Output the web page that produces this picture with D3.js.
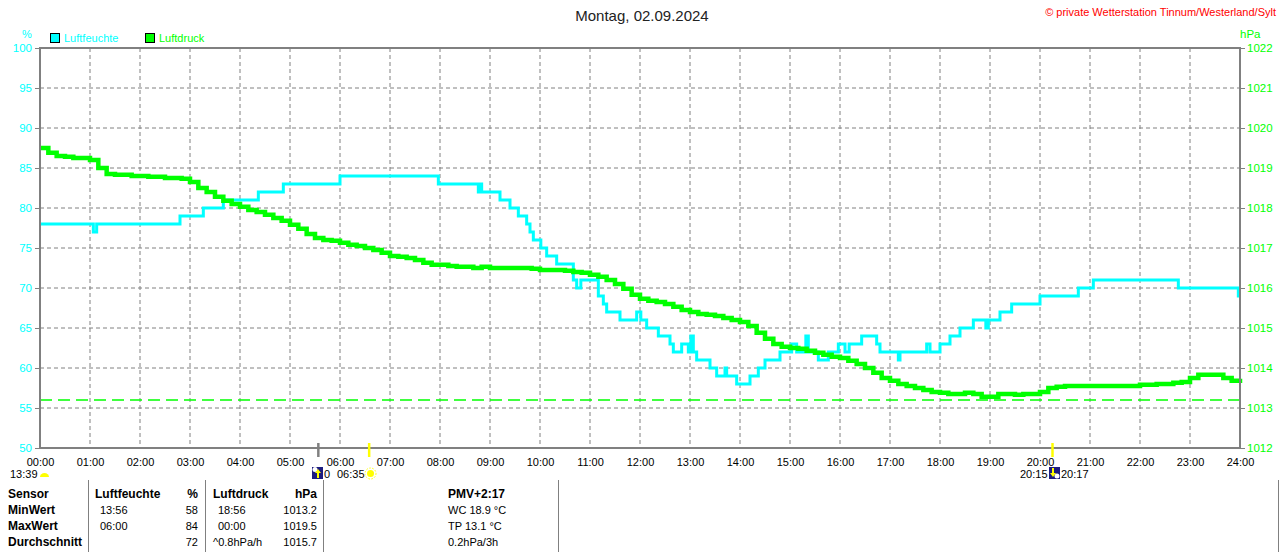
<!DOCTYPE html>
<html>
<head>
<meta charset="utf-8">
<script src="https://cdn.jsdelivr.net/npm/d3@7"></script>
<style>
  body { margin: 0; background: #fff; }
  text { font-family: "Liberation Sans", Arial, sans-serif; }
</style>
</head>
<body>
<div id="chart"></div>
<script>
// hour ticks on the x axis
const hourTicks = d3.range(0, 25);
// humidity ticks (left) and pressure ticks (right)
const humTicks = [50, 55, 60, 65, 70, 75, 80, 85, 90, 95, 100];
const presTicks = [1012, 1013, 1014, 1015, 1016, 1017, 1018, 1019, 1020, 1021, 1022];

// Luftfeuchte: step changes (time, %)
const humTimes = ["00:00","01:04","01:08","02:48","03:16","03:40","04:22","04:52","06:00","07:58",
  "08:46","08:48","08:50","09:12","09:24","09:34","09:44","09:48","09:52","10:01",
  "10:08","10:20","10:40","10:44","10:49","11:10","11:16","11:20","11:36","11:56",
  "12:01","12:08","12:22","12:36","12:40","12:50","12:58","13:01","13:04","13:08",
  "13:24","13:32","13:42","13:44","13:56","14:12","14:22","14:30","14:48","15:02",
  "15:08","15:19","15:22","15:34","15:46","15:58","16:06","16:11","16:26","16:44",
  "16:48","17:10","17:12","17:44","17:48","18:00","18:12","18:24","18:40","18:55",
  "18:58","19:12","19:26","20:00","20:46","21:04","22:46","23:58","24:00"];
const humValues = [78,77,78,79,80,81,82,83,84,83,
  82,83,82,81,80,79,78,77,76,75,
  74,73,71,70,71,69,68,67,66,67,
  66,65,64,63,62,63,62,64,62,61,
  60,59,60,59,58,59,60,61,62,63,
  62,64,62,61,62,63,62,63,64,63,
  62,61,62,63,62,63,64,65,66,65,
  66,67,68,69,70,71,70,69,69];

// Luftdruck: one reading every 10 minutes, 00:00 .. 24:00 (hPa)
const presStep = 10;
const presValues = [
  1019.50,1019.38,1019.30,1019.28,1019.25,1019.25,
  1019.20,1019.00,1018.85,1018.83,1018.83,1018.80,
  1018.80,1018.78,1018.78,1018.75,1018.75,1018.73,
  1018.65,1018.50,1018.40,1018.28,1018.18,1018.10,
  1018.03,1017.95,1017.90,1017.83,1017.75,1017.68,
  1017.58,1017.48,1017.35,1017.25,1017.20,1017.18,
  1017.13,1017.08,1017.05,1017.00,1016.95,1016.88,
  1016.80,1016.78,1016.75,1016.70,1016.63,1016.58,
  1016.58,1016.55,1016.53,1016.53,1016.50,1016.53,
  1016.50,1016.50,1016.50,1016.50,1016.50,1016.48,
  1016.45,1016.45,1016.45,1016.43,1016.40,1016.38,
  1016.33,1016.28,1016.20,1016.10,1015.98,1015.83,
  1015.73,1015.68,1015.65,1015.60,1015.53,1015.45,
  1015.40,1015.35,1015.33,1015.30,1015.25,1015.20,
  1015.15,1015.05,1014.88,1014.73,1014.60,1014.53,
  1014.50,1014.48,1014.43,1014.38,1014.33,1014.28,
  1014.25,1014.18,1014.10,1014.00,1013.88,1013.75,
  1013.68,1013.60,1013.55,1013.50,1013.45,1013.40,
  1013.38,1013.35,1013.35,1013.38,1013.35,1013.28,
  1013.28,1013.35,1013.35,1013.33,1013.35,1013.35,
  1013.40,1013.50,1013.53,1013.55,1013.55,1013.55,
  1013.55,1013.55,1013.55,1013.55,1013.55,1013.55,
  1013.58,1013.58,1013.60,1013.60,1013.63,1013.65,
  1013.75,1013.83,1013.83,1013.83,1013.75,1013.68,
  1013.73];
const presMin = 1013.2;

// statistics table
const tableHead = ["Sensor", "Luftfeuchte", "%", "Luftdruck", "hPa", "PMV+2:17"];
const rowNames = ["MinWert", "MaxWert", "Durchschnitt"];
const humTime = ["13:56", "06:00", ""];
const humStat = ["58", "84", "72"];
const presTime = ["18:56", "00:00", "^0.8hPa/h"];
const presStat = ["1013.2", "1019.5", "1015.7"];
const extra = ["WC 18.9 °C", "TP 13.1 °C", "0.2hPa/3h"];

const W = 1280, H = 552;
const margin = { top: 48, right: 40, bottom: 104, left: 40 };
const width = W - margin.left - margin.right,
      height = H - margin.top - margin.bottom;

const CYAN = "#00ffff", GREEN = "#00ff00", GRAY = "#808080";

const svg = d3.select("#chart").append("svg")
    .attr("width", W).attr("height", H);

const g = svg.append("g")
    .attr("transform", `translate(${margin.left},${margin.top})`);

const toMin = s => { const p = s.split(":"); return +p[0] * 60 + +p[1]; };

const x = d3.scaleLinear().domain([0, 1440]).range([0, width]);
const yH = d3.scaleLinear().domain([50, 100]).range([height, 0]);
const yP = d3.scaleLinear().domain([1012, 1022]).range([height, 0]);

// grid
g.append("g").selectAll("line").data(hourTicks.slice(1, -1)).join("line")
    .attr("x1", d => x(d * 60)).attr("x2", d => x(d * 60))
    .attr("y1", 0).attr("y2", height)
    .attr("stroke", GRAY).attr("stroke-dasharray", "4,3");
g.append("g").selectAll("line").data(humTicks.slice(1, -1)).join("line")
    .attr("x1", 0).attr("x2", width)
    .attr("y1", d => yH(d)).attr("y2", d => yH(d))
    .attr("stroke", GRAY).attr("stroke-dasharray", "4,3");

// left axis (humidity)
const axL = g.append("g")
    .call(d3.axisLeft(yH).tickValues(humTicks).tickSize(5).tickPadding(3));
axL.select(".domain").remove();
axL.selectAll("line").attr("stroke", GRAY);
axL.selectAll("text").attr("fill", CYAN).style("font-size", "11.5px");

// right axis (pressure)
const axR = g.append("g")
    .attr("transform", `translate(${width},0)`)
    .call(d3.axisRight(yP).tickValues(presTicks).tickSize(5).tickPadding(2).tickFormat(d3.format("d")));
axR.select(".domain").remove();
axR.selectAll("line").attr("stroke", GRAY);
axR.selectAll("text").attr("fill", GREEN).style("font-size", "11.5px");

// bottom axis labels
const axB = g.append("g")
    .attr("transform", `translate(0,${height})`)
    .call(d3.axisBottom(x).tickValues(hourTicks.map(h => h * 60)).tickSize(0).tickPadding(10)
        .tickFormat(d => String(d / 60).padStart(2, "0") + ":00"));
axB.select(".domain").remove();
axB.selectAll("text").attr("fill", "#000").style("font-size", "11px");

// min pressure reference line
g.append("line")
    .attr("x1", 0).attr("x2", width)
    .attr("y1", yP(presMin)).attr("y2", yP(presMin))
    .attr("stroke", GREEN).attr("stroke-width", 1.5).attr("stroke-dasharray", "12,6");

// humidity line
const humData = humTimes.map((t, i) => [toMin(t), humValues[i]]);
g.append("path").datum(humData)
    .attr("fill", "none").attr("stroke", CYAN).attr("stroke-width", 3)
    .attr("d", d3.line().x(d => x(d[0])).y(d => yH(d[1])).curve(d3.curveStepAfter));

// pressure line
g.append("path").datum(presValues)
    .attr("fill", "none").attr("stroke", GREEN).attr("stroke-width", 4.5)
    .attr("d", d3.line().x((d, i) => x(i * presStep)).y(d => yP(d)).curve(d3.curveStepAfter));

// frame
g.append("path")
    .attr("d", `M0,${height}V0H${width}V${height}H0`)
    .attr("fill", "none").attr("stroke", GRAY).attr("stroke-width", 2);

// sun / moon markers on the axis
const marks = [["05:34", GRAY], ["06:35", "#ffff00"], ["20:15", "#ffff00"]];
g.selectAll(".mark").data(marks).join("line")
    .attr("x1", d => x(toMin(d[0]))).attr("x2", d => x(toMin(d[0])))
    .attr("y1", height - 5).attr("y2", height + 9)
    .attr("stroke", d => d[1]).attr("stroke-width", 2.5);

// titles
svg.append("text").attr("x", 642).attr("y", 21).attr("text-anchor", "middle")
    .style("font-size", "15px").attr("fill", "#222").text("Montag, 02.09.2024");
svg.append("text").attr("x", 1276).attr("y", 16).attr("text-anchor", "end")
    .style("font-size", "11px").attr("fill", "#ff0000")
    .text("© private Wetterstation Tinnum/Westerland/Sylt");
svg.append("text").attr("x", 27).attr("y", 38).attr("text-anchor", "middle")
    .style("font-size", "11px").attr("fill", CYAN).text("%");
svg.append("text").attr("x", 1240).attr("y", 38)
    .style("font-size", "11.5px").attr("fill", GREEN).text("hPa");

// legend
const legend = [["Luftfeuchte", CYAN, 50], ["Luftdruck", GREEN, 145]];
legend.forEach(([name, col, lx]) => {
    svg.append("rect").attr("x", lx + 0.5).attr("y", 33.5).attr("width", 9).attr("height", 9)
        .attr("fill", col).attr("stroke", "#000").attr("stroke-width", 1);
    svg.append("text").attr("x", lx + 14).attr("y", 42)
        .style("font-size", "11px").attr("fill", col).text(name);
});

// sun/moon line below axis
const small = (tx, ty, s, anchor) => svg.append("text").attr("x", tx).attr("y", ty)
    .attr("text-anchor", anchor || "start").style("font-size", "11px").attr("fill", "#000").text(s);
small(10, 478, "13:39");
svg.append("path").attr("d", "M40,477 a4.5,4 0 0 1 9,0 Z").attr("fill", "#ffff00");
function moonIcon(mx, up) {
    svg.append("rect").attr("x", mx).attr("y", 467).attr("width", 11).attr("height", 12).attr("fill", "#1c1c80");
    svg.append("circle").attr("cx", up ? mx + 3 : mx + 8).attr("cy", up ? 469.5 : 476).attr("r", 2.5).attr("fill", "#fff");
    svg.append("path").attr("d", up
        ? `M${mx + 6},469 l-3,4 h2 v5 h2 v-5 h2 Z`
        : `M${mx + 4},477 l-3,-4 h2 v-5 h2 v5 h2 Z`).attr("fill", "#ffff00");
}
moonIcon(312, true);
small(324, 478, "0");
small(337, 478, "06:35");
svg.append("circle").attr("cx", 370.5).attr("cy", 473.5).attr("r", 3.5).attr("fill", "#ffff00");
svg.append("circle").attr("cx", 370.5).attr("cy", 473.5).attr("r", 5.5).attr("fill", "none")
    .attr("stroke", "#ffff00").attr("stroke-width", 1).attr("stroke-dasharray", "1.5,1.5");
small(1020, 478, "20:15");
moonIcon(1049, false);
small(1061, 478, "20:17");

// table
[88, 205, 323, 558, 1278].forEach(sx => {
    svg.append("line").attr("x1", sx + 0.5).attr("x2", sx + 0.5).attr("y1", 480).attr("y2", 552)
        .attr("stroke", GRAY).attr("stroke-width", 1);
});
const cell = (tx, ty, s, anchor, bold) => svg.append("text").attr("x", tx).attr("y", ty)
    .attr("text-anchor", anchor).style("font-size", bold ? "12px" : "11px")
    .style("font-weight", bold ? "bold" : "normal").attr("fill", "#000").text(s);
cell(8, 498, tableHead[0], "start", true);
cell(95, 498, tableHead[1], "start", true);
cell(198, 498, tableHead[2], "end", true);
cell(213, 498, tableHead[3], "start", true);
cell(317, 498, tableHead[4], "end", true);
cell(448, 498, tableHead[5], "start", true);
rowNames.forEach((r, i) => {
    const ty = 514 + i * 16;
    cell(8, ty, r, "start", true);
    cell(100, ty, humTime[i], "start");
    cell(198, ty, humStat[i], "end");
    cell(i === 2 ? 213 : 218, ty, presTime[i], "start");
    cell(317, ty, presStat[i], "end");
    cell(448, ty, extra[i], "start");
});
</script>
</body>
</html>
